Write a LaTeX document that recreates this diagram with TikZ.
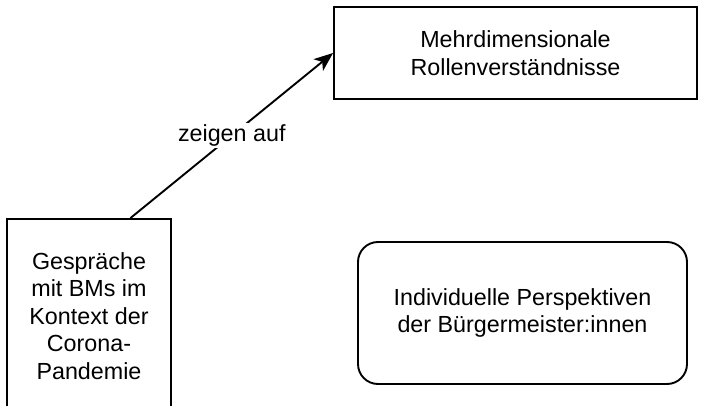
\documentclass[tikz,border=0pt]{standalone}
\usepackage{fontspec}
\setmainfont{Liberation Sans}
\usetikzlibrary{arrows.meta,calc}
\begin{document}
\begin{tikzpicture}[x=1pt,y=-1pt,
  lbl/.style={font=\fontsize{23.3}{27.5}\selectfont, align=center},
  box/.style={draw, line width=1.9pt, inner sep=0pt},
  conn/.style={line width=1.9pt, -{Stealth[length=19pt,width=15pt,inset=5pt]}}]
\useasboundingbox (0,0) rectangle (702,406);
\clip (0,0) rectangle (702,406);
\node[box, minimum width=363pt, minimum height=92pt] (top) at (515.5,53) {};
\node[lbl] (toptext) at (top.center) {Mehrdimensionale\\Rollenverständnisse};
\node[box, minimum width=164pt, minimum height=196pt] (left) at (89,317) {};
\node[lbl] (lefttext) at (89,316) {Gespräche\\mit BMs im\\Kontext der\\Corona-\\Pandemie};
\node[box, rounded corners=20pt, minimum width=329pt, minimum height=142pt] (ind) at (522.5,313) {};
\node[lbl] (indtext) at (ind.center) {Individuelle Perspektiven\\der Bürgermeister:innen};
\coordinate (start) at ($(left.north west)!0.75!(left.north east)$);
\draw[conn] (start) -- (top.west) node[midway, fill=white, lbl, inner sep=2pt] (edge) {zeigen auf};
\end{tikzpicture}
\end{document}
